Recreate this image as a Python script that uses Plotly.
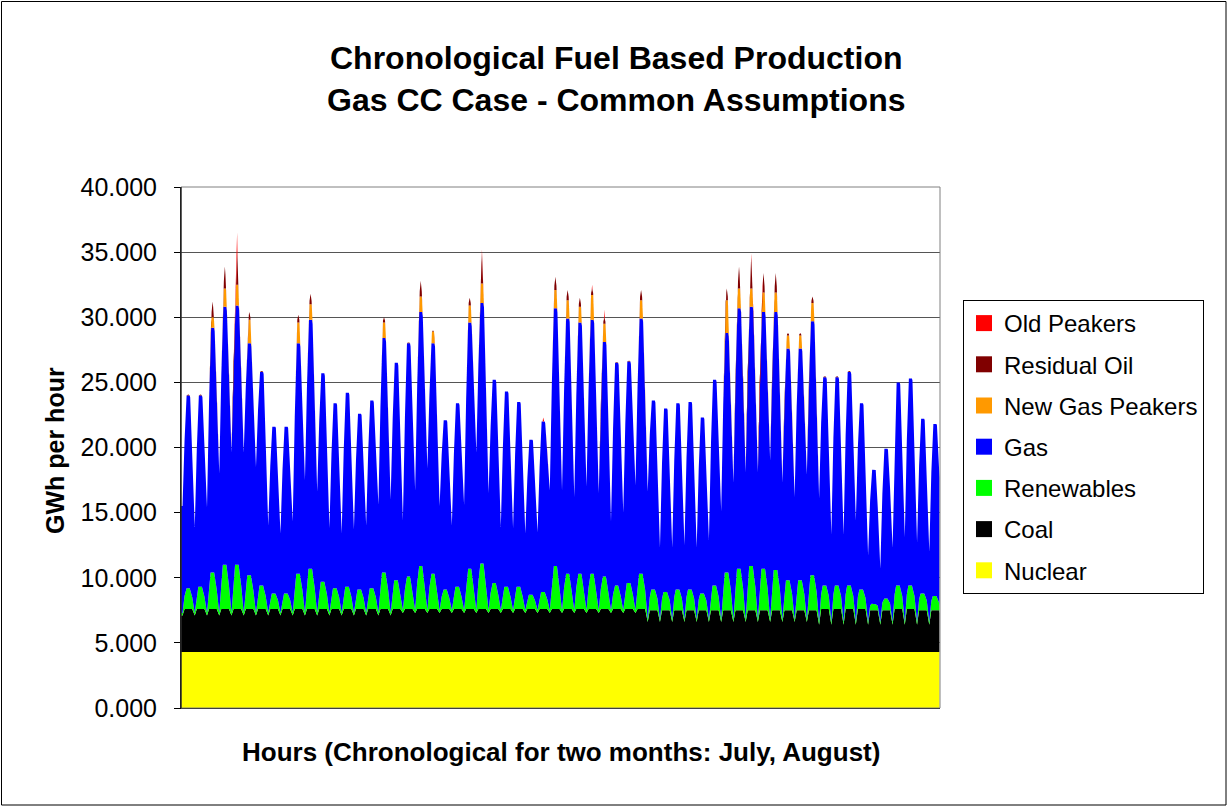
import plotly.graph_objects as go

# ---------------- data (GWh per hour) ----------------
# one entry per day: July 1 ... August 31 (62 days)
nuclear = 4.3  # flat over the whole period

coal_day = [3.3, 3.3, 3.3, 3.3, 3.3, 3.3, 3.3, 3.3, 3.3, 3.3,
            3.3, 3.3, 3.3, 3.3, 3.3, 3.3, 3.3, 3.3, 3.3, 3.3,
            3.3, 3.3, 3.3, 3.3, 3.3, 3.3, 3.3, 3.3, 3.3, 3.3,
            3.3, 3.3, 3.3, 3.3, 3.3, 3.3, 3.3, 3.3, 3.2, 3.2,
            3.2, 3.2, 3.2, 3.2, 3.2, 3.2, 3.2, 3.2, 3.2, 3.2,
            3.2, 3.2, 3.3, 3.3, 3.3, 3.3, 3.2, 3.2, 3.3, 3.3,
            3.2, 3.2]
coal_night = [2.8, 2.8, 2.8, 2.8, 2.8, 2.8, 2.8, 2.8, 2.8, 2.8,
              2.8, 2.8, 2.8, 2.8, 2.8, 2.8, 2.8, 2.8, 3.0, 3.0,
              3.0, 3.0, 3.0, 3.0, 3.0, 3.0, 3.0, 3.0, 3.0, 3.0,
              3.0, 3.0, 3.0, 3.0, 3.0, 3.0, 3.0, 3.0, 2.3, 2.3,
              2.3, 2.3, 2.3, 2.3, 2.3, 2.3, 2.3, 2.3, 2.3, 2.3,
              2.3, 2.3, 2.1, 2.1, 2.1, 2.1, 2.1, 2.1, 2.1, 2.1,
              2.1, 2.1]
renewables_peak = [1.6, 1.7, 2.8, 3.4, 3.4, 2.6, 1.8, 1.2, 1.2, 2.7,
                   3.1, 2.1, 1.6, 1.7, 1.5, 1.6, 2.8, 2.2, 2.5, 3.3,
                   2.7, 1.5, 1.7, 3.1, 3.5, 2.0, 1.7, 1.7, 1.1, 1.3,
                   3.3, 2.7, 2.7, 2.7, 2.5, 1.8, 2.0, 2.7, 1.6, 1.4,
                   1.6, 1.6, 1.3, 1.9, 2.9, 3.2, 3.4, 3.2, 3.1, 2.3,
                   2.3, 2.7, 1.8, 1.8, 1.8, 1.5, 0.5, 0.9, 1.8, 1.8,
                   1.3, 1.1]
renewables_night = 0.2
gas_peak = [14.8, 14.7, 18.8, 19.8, 19.9, 17.8, 16.4, 12.8, 12.8, 17.7,
            19.1, 16.0, 14.2, 14.9, 13.5, 14.4, 18.0, 16.7, 17.9, 19.5,
            17.7, 13.0, 14.1, 18.9, 20.0, 15.6, 15.0, 14.2, 11.9, 13.1,
            19.8, 19.6, 19.3, 19.5, 18.0, 17.1, 17.0, 19.6, 14.5, 14.1,
            14.3, 14.4, 13.5, 15.8, 18.4, 20.0, 19.9, 19.7, 19.8, 17.8,
            17.8, 19.5, 16.0, 16.0, 16.4, 14.3, 10.3, 11.5, 15.6, 15.9,
            13.4, 13.2]
gas_night = [8.2, 6.6, 8.1, 10.7, 12.3, 12.3, 11.2, 6.7, 6.1, 7.0,
             10.2, 9.3, 6.5, 6.1, 6.4, 6.7, 8.3, 8.7, 6.9, 9.2,
             10.9, 8.0, 6.5, 8.1, 12.1, 9.0, 6.4, 6.3, 5.9, 6.0,
             9.2, 9.2, 8.7, 9.5, 9.0, 6.8, 7.5, 9.6, 9.8, 5.5,
             5.5, 5.7, 5.5, 6.1, 8.3, 10.5, 11.3, 11.3, 12.2, 10.5,
             9.4, 11.1, 9.5, 6.7, 6.7, 7.8, 5.1, 4.1, 5.7, 6.5,
             6.1, 5.4]
new_gas_peakers = [0.0, 0.0, 0.8, 1.4, 1.6, 1.8, 0.0, 0.0, 0.0, 1.6,
                   1.2, 0.0, 0.0, 0.0, 0.0, 0.0, 1.2, 0.0, 0.0, 1.2,
                   0.9, 0.0, 0.0, 1.3, 1.5, 0.0, 0.0, 0.0, 0.0, 0.0,
                   1.4, 1.4, 1.2, 1.9, 1.4, 0.0, 0.0, 1.4, 0.0, 0.0,
                   0.0, 0.0, 0.0, 0.0, 2.5, 1.5, 1.4, 1.5, 1.5, 1.0,
                   1.0, 1.4, 0.0, 0.0, 0.0, 0.0, 0.0, 0.0, 0.0, 0.0,
                   0.0, 0.0]
residual_oil = [0.1, 0.1, 1.2, 1.7, 2.5, 0.6, 0.1, 0.0, 0.0, 0.6,
                0.8, 0.0, 0.0, 0.0, 0.0, 0.0, 0.4, 0.0, 0.1, 1.2,
                0.1, 0.0, 0.0, 0.6, 2.3, 0.0, 0.0, 0.0, 0.0, 0.0,
                1.0, 0.8, 0.7, 0.5, 0.5, 0.1, 0.1, 0.8, 0.0, 0.0,
                0.0, 0.0, 0.0, 0.0, 0.9, 1.7, 2.4, 1.5, 1.5, 0.2,
                0.2, 0.5, 0.1, 0.1, 0.1, 0.0, 0.0, 0.0, 0.0, 0.0,
                0.0, 0.0]
old_peakers = [0.0, 0.0, 0.0, 0.0, 1.5, 0.0, 0.0, 0.0, 0.0, 0.0,
               0.0, 0.0, 0.0, 0.0, 0.0, 0.0, 0.0, 0.0, 0.0, 0.0,
               0.0, 0.0, 0.0, 0.0, 0.3, 0.0, 0.0, 0.0, 0.0, 0.3,
               0.0, 0.0, 0.0, 0.3, 0.6, 0.0, 0.0, 0.0, 0.0, 0.0,
               0.0, 0.0, 0.0, 0.0, 0.0, 0.0, 0.3, 0.0, 0.0, 0.0,
               0.0, 0.0, 0.0, 0.0, 0.0, 0.0, 0.0, 0.0, 0.0, 0.0,
               0.0, 0.0]
# values at the very last hour of August 31
coal_last, renewables_last, gas_last = 3.0, 0.5, 9.9

series_names = ["Nuclear", "Coal", "Renewables", "Gas",
                "New Gas Peakers", "Residual Oil", "Old Peakers"]
series_colors = ["#FFFF00", "#000000", "#00FF00", "#0000FF",
                 "#FF9900", "#800000", "#FF0000"]
y_ticks = [0, 5, 10, 15, 20, 25, 30, 35, 40]

# ---------------- hourly positions ----------------
H = 24
n_days = len(gas_peak)
last_hour = n_days * H - 1

nuc_x, nuc_y = [0, last_hour], [nuclear, nuclear]

coal_x, coal_y = [], []
ren_x, ren_y = [], []
gas_x, gas_y = [], []
for d in range(n_days):
    coal_x += [d * H + 3, d * H + 7, d * H + 22]
    coal_y += [coal_night[d], coal_day[d], coal_day[d]]
    ren_x += [d * H + 3, d * H + 10, d * H + 17]
    ren_y += [renewables_night, renewables_peak[d], renewables_peak[d]]
    gas_x += [d * H + 3, d * H + 10, d * H + 18]
    gas_y += [gas_night[d], gas_peak[d], gas_peak[d]]
coal_x.append(last_hour); coal_y.append(coal_last)
ren_x.append(last_hour); ren_y.append(renewables_last)
gas_x.append(last_hour); gas_y.append(gas_last)


def peaker_points(values, hours):
    """hours: offsets within the day; first and last carry zero."""
    xs, ys = [], []
    for d, v in enumerate(values):
        for k, h in enumerate(hours):
            xs.append(d * H + h)
            ys.append(0 if k in (0, len(hours) - 1) else v)
    return xs, ys


layers = [
    (nuc_x, nuc_y),
    (coal_x, coal_y),
    (ren_x, ren_y),
    (gas_x, gas_y),
    peaker_points(new_gas_peakers, [10, 12, 16, 18]),
    peaker_points(residual_oil, [11, 14, 17]),
    peaker_points(old_peakers, [13, 14, 15]),
]

fig = go.Figure()
for (xs, ys), name, color in zip(layers, series_names, series_colors):
    fig.add_trace(go.Scatter(
        x=xs, y=ys, name=name, mode="lines",
        stackgroup="one", stackgaps="interpolate",
        line=dict(width=0, color=color), fillcolor=color,
        showlegend=False, hoverinfo="skip"))

# legend entries (square swatches), top to bottom
for name, color in zip(reversed(series_names), reversed(series_colors)):
    fig.add_trace(go.Scatter(
        x=[None], y=[None], mode="markers", name=name, legendgroup=name,
        marker=dict(symbol="square", size=16, color=color)))

# ---------------- layout ----------------
W, HGT = 1228, 807
L, R, T, B = 181, 940, 187, 708  # plot-area pixel box
pw, ph = R - L, B - T


def px(x):
    return (x - L) / pw


def py(y):
    return (B - y) / ph


FONT = "Arial, Liberation Sans, sans-serif"

fig.update_layout(
    width=W, height=HGT,
    margin=dict(l=L, r=W - R, t=T, b=HGT - B, pad=0),
    paper_bgcolor="white", plot_bgcolor="white",
    font=dict(family=FONT, color="black", size=25),
    hovermode=False,
    showlegend=True,
    legend=dict(
        x=px(963), y=py(300), xanchor="left", yanchor="top",
        bordercolor="#000000", borderwidth=1, bgcolor="white",
        font=dict(family=FONT, size=24, color="black"),
        traceorder="grouped", tracegroupgap=7, itemsizing="trace"),
    xaxis=dict(
        range=[0, n_days * H], showticklabels=False, ticks="",
        showgrid=False, zeroline=False,
        showline=True, linecolor="#000000", linewidth=1),
    yaxis=dict(
        range=[0, 40], tickvals=y_ticks, tickformat=".3f",
        ticks="outside", ticklen=6, tickcolor="#000000",
        ticklabelstandoff=12,
        showgrid=True, gridcolor="#555555", gridwidth=1,
        zeroline=False, showline=True, linecolor="#000000", linewidth=1,
        tickfont=dict(family=FONT, size=25, color="black")),
    shapes=[
        dict(type="rect", xref="paper", yref="paper",
             x0=0, x1=1, y0=0, y1=1,
             line=dict(color="#808080", width=1), layer="above"),
        dict(type="line", xref="paper", yref="paper",
             x0=0, x1=0, y0=0, y1=1,
             line=dict(color="#000000", width=1), layer="above"),
        dict(type="rect", xref="paper", yref="paper",
             x0=px(1.5), x1=px(1226), y0=py(805), y1=py(1.5),
             line=dict(color="#000000", width=1)),
    ],
    annotations=[
        dict(text="<b>Chronological Fuel Based Production</b>",
             xref="paper", yref="paper", x=px(616), y=py(58),
             xanchor="center", yanchor="middle", showarrow=False,
             font=dict(family=FONT, size=32, color="black")),
        dict(text="<b>Gas CC Case - Common Assumptions</b>",
             xref="paper", yref="paper", x=px(616), y=py(100),
             xanchor="center", yanchor="middle", showarrow=False,
             font=dict(family=FONT, size=32, color="black")),
        dict(text="<b>Hours (Chronological for two months: July, August)</b>",
             xref="paper", yref="paper", x=px(561), y=py(752),
             xanchor="center", yanchor="middle", showarrow=False,
             font=dict(family=FONT, size=26, color="black")),
        dict(text="<b>GWh per hour</b>",
             xref="paper", yref="paper", x=px(55), y=py(450),
             xanchor="center", yanchor="middle", showarrow=False,
             textangle=-90,
             font=dict(family=FONT, size=25, color="black")),
    ],
)

fig.write_html("out.html", config={"displayModeBar": False},
               post_script="document.body.style.margin='0';")
